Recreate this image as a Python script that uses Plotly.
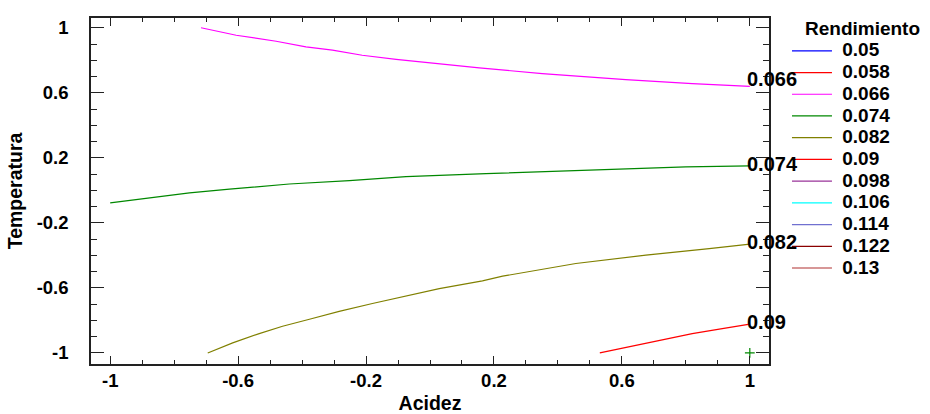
import plotly.graph_objects as go

# Contour levels and colours (legend)
levels = ["0.05", "0.058", "0.066", "0.074", "0.082", "0.09", "0.098", "0.106", "0.114", "0.122", "0.13"]
level_colors = ["#0000FF", "#FF0000", "#FF00FF", "#008800", "#808000", "#FF0000",
                "#993399", "#00FFFF", "#7070D0", "#8B0000", "#B03030"]

# Contour lines (Acidez, Temperatura)
c066_x = [-0.716, -0.606, -0.481, -0.388, -0.305, -0.212, -0.106, -0.002, 0.154, 0.351, 0.612, 0.820, 1.0]
c066_y = [1.0, 0.954, 0.917, 0.882, 0.862, 0.831, 0.806, 0.784, 0.753, 0.718, 0.681, 0.657, 0.640]

c074_x = [-1.0, -0.867, -0.752, -0.627, -0.44, -0.252, -0.075, 0.175, 0.414, 0.612, 0.80, 1.0]
c074_y = [-0.077, -0.044, -0.016, 0.007, 0.039, 0.060, 0.085, 0.103, 0.119, 0.132, 0.144, 0.150]

c082_x = [-0.695, -0.617, -0.534, -0.461, -0.377, -0.284, -0.180, -0.075, 0.029, 0.164, 0.227, 0.456, 0.675, 0.873, 1.0]
c082_y = [-1.0, -0.938, -0.881, -0.836, -0.793, -0.744, -0.696, -0.649, -0.604, -0.557, -0.528, -0.450, -0.399, -0.358, -0.331]

c090_x = [0.531, 0.633, 0.716, 0.820, 0.914, 1.0]
c090_y = [-1.0, -0.957, -0.926, -0.881, -0.850, -0.823]

lines = {"0.066": (c066_x, c066_y), "0.074": (c074_x, c074_y),
         "0.082": (c082_x, c082_y), "0.09": (c090_x, c090_y)}

# Optimum marker
opt_x = [1.0]
opt_y = [-1.0]

tick_vals = [-1, -0.6, -0.2, 0.2, 0.6, 1]
tick_text = ["-1", "-0.6", "-0.2", "0.2", "0.6", "1"]

FONT = "Liberation Sans, Arial, sans-serif"
BIG = 19

fig = go.Figure()
for lvl, col in zip(levels, level_colors):
    if lvl in lines:
        xs, ys = lines[lvl]
    else:
        xs, ys = [None], [None]
    fig.add_trace(go.Scatter(x=xs, y=ys, mode="lines",
                             name=f'<span style="font-size:{BIG}px">\u00a0{lvl}</span>',
                             line=dict(color=col, width=1.2), hoverinfo="skip"))

fig.add_trace(go.Scatter(x=opt_x, y=opt_y, mode="markers", showlegend=False,
                         marker=dict(symbol="cross-thin", size=7,
                                     line=dict(color="#008800", width=1.2))))

# contour labels at line ends
label_shift = {"0.066": 7, "0.074": 2, "0.082": 2, "0.09": 2}
for lvl, (xs, ys) in lines.items():
    fig.add_annotation(x=xs[-1], y=ys[-1], text=lvl, showarrow=False,
                       xanchor="left", yanchor="middle", xshift=-5,
                       yshift=label_shift[lvl],
                       font=dict(family=FONT, size=20, color="black", weight="bold"))

# legend title
fig.add_annotation(x=1.1386, y=0.971, xref="paper", yref="paper", text="Rendimiento",
                   showarrow=False, xanchor="center", yanchor="middle",
                   font=dict(family=FONT, size=BIG, color="black", weight="bold"))

axis_common = dict(
    showline=True, linecolor="#222222", linewidth=1.5, mirror="ticks",
    ticks="inside", tickcolor="#222222", tickwidth=1.3, automargin=False,
    tickvals=tick_vals, ticktext=tick_text, showgrid=False, zeroline=False,
    tickfont=dict(family=FONT, size=18.5, color="black", weight="bold"),
)

fig.update_layout(
    width=930, height=414,
    margin=dict(l=91, r=161, t=18, b=50),
    plot_bgcolor="white", paper_bgcolor="white",
    xaxis=dict(**axis_common, ticklen=8, range=[-1.06, 1.06], ticklabelstandoff=-1,
               minor=dict(ticks="inside", dtick=0.1, tick0=0, ticklen=4,
                          tickcolor="#222222", tickwidth=1.3),
               title=dict(text="Acidez", standoff=6,
                          font=dict(family=FONT, size=19.5, color="black", weight="bold"))),
    yaxis=dict(**axis_common, ticklen=13, range=[-1.068, 1.06], ticklabelstandoff=17,
               minor=dict(ticks="inside", dtick=0.1, tick0=0, ticklen=6,
                          tickcolor="#222222", tickwidth=1.3),
               title=dict(text="Temperatura", standoff=9,
                          font=dict(family=FONT, size=19.5, color="black", weight="bold"))),
    legend=dict(x=1.0265, xref="paper", xanchor="left", y=0.951, yanchor="top",
                font=dict(family=FONT, size=14.4, color="black", weight="bold"),
                tracegroupgap=0, itemwidth=40, bgcolor="rgba(0,0,0,0)"),
    showlegend=True,
)

fig.write_html("out.html")
